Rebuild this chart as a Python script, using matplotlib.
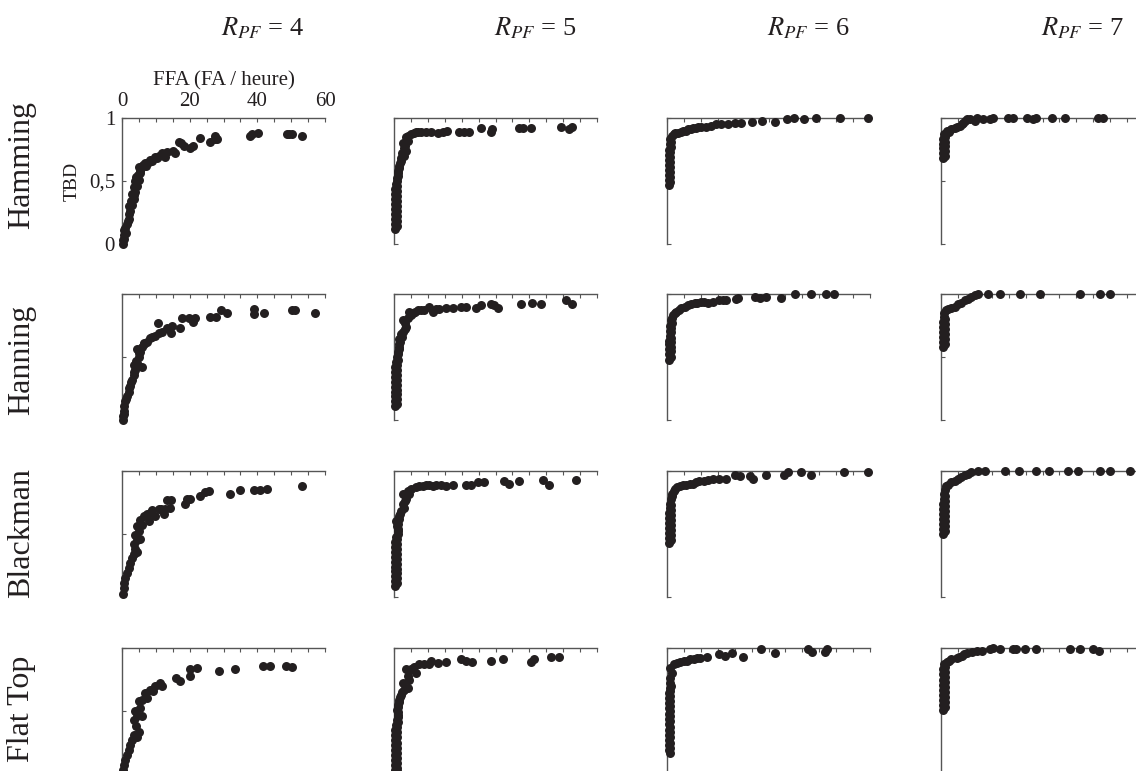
"""
Scatter grid: TBD vs FFA for four windows and four R_PF values.
Output: out.png
"""

import matplotlib.pyplot as plt
from matplotlib.ticker import MultipleLocator

plt.rcParams['font.family'] = 'Liberation Serif'
plt.rcParams['mathtext.fontset'] = 'stix'

# ============================================================================
# DATA ((FFA, TBD) pairs)
# ============================================================================

WINDOWS = ['Hamming', 'Hanning', 'Blackman', 'Flat Top']
RPF_VALUES = [4, 5, 6, 7]
X_TICKS = [0, 20, 40, 60]
Y_TICKS = [0, 0.5, 1]
Y_TICK_LABELS = ['0', '0,5', '1']
X_LABEL = 'FFA (FA / heure)'
Y_LABEL = 'TBD'

HAM_R4 = [(0.2, 0.00), (0.3, 0.03), (0.5, 0.04), (0.5, 0.07), (0.7, 0.11), (1.0, 0.13),
          (1.2, 0.09), (1.5, 0.16), (1.8, 0.18), (2.0, 0.20), (2.2, 0.24), (2.5, 0.26),
          (2.0, 0.30), (3.0, 0.31), (2.8, 0.34), (3.4, 0.36), (3.6, 0.39), (3.9, 0.41),
          (3.0, 0.40), (3.5, 0.45), (4.4, 0.46), (3.9, 0.50), (4.9, 0.51), (4.6, 0.55),
          (4.2, 0.53), (5.4, 0.58), (5.2, 0.56), (4.9, 0.61), (5.9, 0.61), (6.2, 0.63),
          (6.9, 0.64), (7.2, 0.62), (7.9, 0.65), (8.4, 0.67), (8.9, 0.66), (9.8, 0.69),
          (10.3, 0.68), (10.8, 0.70), (11.8, 0.72), (12.8, 0.69), (13.3, 0.73), (15.2, 0.74),
          (15.7, 0.72), (16.7, 0.81), (17.4, 0.80), (18.2, 0.78), (20.2, 0.76), (21.1, 0.78),
          (23.1, 0.84), (26.1, 0.81), (27.5, 0.86), (27.5, 0.83), (28.0, 0.83), (37.9, 0.86),
          (38.5, 0.87), (40.3, 0.88), (48.7, 0.87), (49.5, 0.87), (50.2, 0.87), (53.1, 0.86)]
HAM_R5 = [(0.4, 0.12), (0.9, 0.14), (0.4, 0.16), (0.9, 0.18), (0.4, 0.20), (0.9, 0.22),
          (0.4, 0.24), (0.9, 0.26), (0.4, 0.28), (0.9, 0.30), (0.4, 0.32), (0.9, 0.34),
          (0.4, 0.36), (0.9, 0.38), (0.4, 0.40), (0.9, 0.42), (0.4, 0.44), (0.9, 0.46),
          (0.6, 0.48), (1.0, 0.50), (0.8, 0.52), (1.2, 0.54), (1.1, 0.56), (1.2, 0.58),
          (1.4, 0.60), (1.5, 0.62), (1.8, 0.64), (2.0, 0.66), (2.1, 0.68), (3.0, 0.70),
          (2.5, 0.72), (3.5, 0.74), (3.0, 0.76), (3.3, 0.78), (2.8, 0.80), (4.0, 0.82),
          (3.5, 0.85), (4.2, 0.86), (5.0, 0.87), (5.8, 0.88), (6.5, 0.89), (7.2, 0.89),
          (8.0, 0.89), (9.4, 0.89), (10.9, 0.89), (12.9, 0.88), (14.4, 0.89), (15.8, 0.90),
          (19.3, 0.89), (20.8, 0.89), (22.2, 0.89), (25.7, 0.92), (28.6, 0.89), (29.1, 0.91),
          (37.0, 0.92), (38.0, 0.92), (40.4, 0.92), (49.3, 0.93), (51.8, 0.91), (52.5, 0.93)]
HAM_R6 = [(0.5, 0.47), (1.0, 0.49), (0.5, 0.51), (1.0, 0.53), (0.5, 0.55), (1.0, 0.57),
          (0.5, 0.59), (1.0, 0.61), (0.5, 0.63), (1.0, 0.65), (0.5, 0.67), (1.0, 0.69),
          (0.5, 0.71), (1.0, 0.73), (0.6, 0.75), (1.1, 0.77), (0.8, 0.79), (1.2, 0.81),
          (1.0, 0.83), (1.5, 0.86), (2.0, 0.87), (2.5, 0.88), (3.2, 0.88), (4.0, 0.89),
          (4.8, 0.90), (5.5, 0.90), (6.2, 0.91), (7.0, 0.91), (7.8, 0.92), (8.5, 0.92),
          (9.2, 0.93), (10.0, 0.93), (11.5, 0.93), (13.0, 0.94), (14.5, 0.95), (16.0, 0.95),
          (18.0, 0.95), (20.0, 0.96), (22.0, 0.96), (25.0, 0.97), (28.0, 0.98), (32.0, 0.97),
          (35.5, 0.99), (37.5, 1.00), (40.5, 0.99), (44.0, 1.00), (51.0, 1.00), (59.5, 1.00)]
HAM_R7 = [(0.7, 0.68), (1.2, 0.70), (0.7, 0.72), (1.2, 0.74), (0.7, 0.76), (1.2, 0.78),
          (0.7, 0.79), (1.2, 0.81), (0.7, 0.83), (1.2, 0.85), (0.9, 0.87), (1.7, 0.90),
          (2.4, 0.89), (3.1, 0.91), (4.0, 0.92), (4.6, 0.93), (5.6, 0.94), (6.1, 0.95),
          (6.6, 0.96), (7.1, 0.98), (7.6, 0.99), (8.6, 0.99), (10.0, 0.98), (10.5, 1.00),
          (12.5, 0.99), (14.5, 0.99), (15.4, 1.00), (19.9, 1.00), (21.4, 1.00), (25.3, 1.00),
          (27.3, 0.99), (28.2, 1.00), (32.7, 1.00), (36.6, 1.00), (46.4, 1.00), (47.9, 1.00)]

HAN_R4 = [(0.2, 0.00), (0.3, 0.03), (0.6, 0.05), (0.5, 0.07), (0.7, 0.11), (1.0, 0.15),
          (1.2, 0.17), (1.5, 0.19), (2.0, 0.22), (2.2, 0.25), (2.5, 0.27), (2.8, 0.30),
          (3.0, 0.32), (3.4, 0.36), (3.6, 0.38), (3.9, 0.40), (3.4, 0.44), (4.4, 0.45),
          (5.9, 0.42), (4.0, 0.47), (4.9, 0.50), (5.0, 0.53), (5.4, 0.54), (4.4, 0.56),
          (5.9, 0.58), (6.6, 0.60), (6.4, 0.61), (7.4, 0.62), (8.4, 0.65), (9.0, 0.66),
          (9.8, 0.67), (10.8, 0.69), (11.8, 0.70), (10.5, 0.77), (13.3, 0.73), (14.8, 0.75),
          (14.5, 0.69), (17.7, 0.81), (17.2, 0.73), (19.7, 0.81), (21.6, 0.81), (21.1, 0.78),
          (26.1, 0.82), (27.8, 0.82), (29.2, 0.87), (31.0, 0.85), (38.9, 0.88), (38.9, 0.84),
          (42.0, 0.85), (50.2, 0.87), (51.1, 0.87), (56.9, 0.85)]
HAN_R5 = [(0.3, 0.11), (0.8, 0.13), (0.3, 0.15), (0.8, 0.17), (0.3, 0.19), (0.8, 0.21),
          (0.3, 0.22), (0.8, 0.24), (0.3, 0.26), (0.8, 0.28), (0.3, 0.30), (0.8, 0.32),
          (0.3, 0.34), (0.8, 0.36), (0.3, 0.38), (0.8, 0.40), (0.3, 0.42), (0.8, 0.44),
          (0.6, 0.46), (1.2, 0.48), (0.8, 0.50), (1.2, 0.52), (1.1, 0.54), (1.4, 0.56),
          (1.4, 0.58), (1.6, 0.60), (1.8, 0.62), (1.4, 0.64), (2.4, 0.66), (2.0, 0.68),
          (2.8, 0.70), (3.2, 0.72), (3.5, 0.74), (3.2, 0.77), (2.6, 0.79), (4.0, 0.81),
          (5.0, 0.83), (4.5, 0.86), (5.5, 0.85), (6.2, 0.86), (7.0, 0.87), (8.0, 0.87),
          (9.0, 0.87), (10.4, 0.90), (11.4, 0.86), (12.4, 0.88), (13.4, 0.88), (15.4, 0.89),
          (17.3, 0.89), (19.8, 0.90), (21.3, 0.90), (24.2, 0.89), (25.7, 0.91), (28.6, 0.92),
          (29.6, 0.91), (30.6, 0.89), (37.5, 0.92), (40.9, 0.93), (43.4, 0.92), (50.8, 0.95),
          (52.5, 0.92)]
HAN_R6 = [(0.6, 0.48), (1.1, 0.50), (0.6, 0.52), (1.2, 0.55), (0.6, 0.56), (1.1, 0.58),
          (0.6, 0.60), (1.1, 0.62), (0.6, 0.63), (1.1, 0.65), (0.8, 0.67), (1.2, 0.70),
          (0.8, 0.71), (1.2, 0.73), (1.0, 0.75), (1.4, 0.77), (1.3, 0.79), (1.6, 0.81),
          (1.8, 0.83), (2.3, 0.85), (2.8, 0.86), (3.5, 0.87), (4.2, 0.89), (5.2, 0.90),
          (6.2, 0.91), (7.2, 0.92), (8.2, 0.93), (9.0, 0.93), (10.1, 0.94), (11.0, 0.94),
          (12.1, 0.93), (13.6, 0.94), (15.5, 0.95), (16.5, 0.95), (17.5, 0.95), (20.5, 0.96),
          (21.0, 0.97), (25.9, 0.98), (27.4, 0.97), (29.3, 0.98), (33.8, 0.97), (37.7, 1.00),
          (42.6, 1.00), (47.0, 1.00), (49.5, 1.00)]
HAN_R7 = [(0.5, 0.58), (1.2, 0.60), (0.5, 0.62), (1.2, 0.64), (0.5, 0.66), (1.2, 0.68),
          (0.5, 0.70), (1.2, 0.72), (0.5, 0.74), (1.2, 0.76), (0.7, 0.78), (1.2, 0.80),
          (0.9, 0.82), (1.0, 0.85), (1.5, 0.87), (2.2, 0.88), (3.0, 0.89), (4.0, 0.90),
          (5.0, 0.92), (6.0, 0.93), (7.0, 0.95), (8.0, 0.96), (9.0, 0.98), (10.0, 0.99),
          (11.0, 1.00), (14.0, 1.00), (17.4, 1.00), (23.3, 1.00), (29.3, 1.00), (41.1, 1.00),
          (47.0, 1.00), (50.0, 1.00)]

BLA_R4 = [(0.3, 0.02), (0.5, 0.07), (0.7, 0.11), (1.0, 0.15), (1.5, 0.19), (2.0, 0.23),
          (2.3, 0.27), (3.0, 0.31), (3.4, 0.34), (3.9, 0.38), (4.4, 0.36), (3.4, 0.42),
          (4.4, 0.45), (5.4, 0.46), (3.9, 0.49), (4.9, 0.52), (4.4, 0.56), (5.9, 0.57),
          (5.4, 0.61), (6.4, 0.64), (7.9, 0.60), (7.4, 0.66), (8.2, 0.67), (8.9, 0.69),
          (9.8, 0.64), (10.8, 0.70), (11.5, 0.70), (12.3, 0.66), (12.8, 0.70), (14.3, 0.71),
          (13.3, 0.77), (14.5, 0.77), (18.7, 0.74), (19.2, 0.78), (20.2, 0.78), (23.1, 0.80),
          (24.6, 0.83), (25.6, 0.84), (32.0, 0.82), (34.9, 0.85), (38.9, 0.85), (40.8, 0.85),
          (42.8, 0.86), (53.1, 0.88)]
BLA_R5 = [(0.3, 0.09), (0.8, 0.11), (0.3, 0.13), (0.8, 0.15), (0.3, 0.17), (0.8, 0.19),
          (0.3, 0.21), (0.8, 0.22), (0.3, 0.24), (0.8, 0.26), (0.3, 0.28), (0.8, 0.30),
          (0.3, 0.32), (0.8, 0.34), (0.3, 0.36), (0.8, 0.38), (0.3, 0.40), (0.8, 0.42),
          (0.4, 0.44), (0.9, 0.46), (0.6, 0.48), (1.1, 0.50), (1.1, 0.52), (1.2, 0.54),
          (0.8, 0.56), (1.2, 0.58), (0.6, 0.60), (1.4, 0.62), (1.4, 0.64), (1.8, 0.66),
          (2.1, 0.68), (3.0, 0.71), (2.8, 0.74), (3.2, 0.76), (3.5, 0.78), (2.6, 0.82),
          (4.5, 0.82), (4.0, 0.84), (5.0, 0.86), (6.5, 0.87), (7.5, 0.88), (8.5, 0.88),
          (9.5, 0.89), (10.4, 0.89), (11.4, 0.88), (12.5, 0.89), (13.9, 0.89), (15.4, 0.88),
          (17.3, 0.89), (21.3, 0.89), (22.7, 0.89), (24.7, 0.91), (26.7, 0.91), (32.6, 0.92),
          (34.0, 0.90), (37.0, 0.92), (43.9, 0.93), (45.9, 0.89), (53.7, 0.93)]
BLA_R6 = [(0.6, 0.43), (1.1, 0.45), (0.6, 0.47), (1.1, 0.49), (0.6, 0.51), (1.1, 0.53),
          (0.6, 0.55), (1.1, 0.57), (0.6, 0.59), (1.1, 0.61), (0.6, 0.63), (1.1, 0.65),
          (0.6, 0.67), (1.1, 0.69), (0.8, 0.71), (1.2, 0.73), (1.0, 0.74), (1.3, 0.78),
          (1.5, 0.80), (1.6, 0.82), (2.0, 0.84), (2.3, 0.86), (3.0, 0.87), (3.7, 0.88),
          (4.7, 0.89), (5.7, 0.89), (6.7, 0.90), (7.7, 0.90), (8.6, 0.91), (9.6, 0.92),
          (10.9, 0.92), (12.1, 0.93), (13.6, 0.94), (15.5, 0.94), (17.5, 0.94), (20.0, 0.97),
          (21.5, 0.96), (24.4, 0.96), (25.4, 0.94), (29.3, 0.97), (34.7, 0.97), (35.7, 0.99),
          (39.7, 0.99), (42.6, 0.97), (52.4, 0.99), (59.3, 0.99)]
BLA_R7 = [(0.5, 0.50), (1.1, 0.52), (0.5, 0.54), (1.1, 0.56), (0.5, 0.58), (1.1, 0.60),
          (0.5, 0.62), (1.1, 0.64), (0.5, 0.66), (1.1, 0.68), (0.5, 0.70), (1.1, 0.72),
          (0.6, 0.74), (1.1, 0.76), (0.8, 0.78), (1.2, 0.80), (1.0, 0.82), (1.2, 0.85),
          (1.5, 0.88), (2.2, 0.89), (3.0, 0.91), (4.0, 0.92), (5.0, 0.94), (6.0, 0.95),
          (7.0, 0.97), (8.0, 0.98), (9.0, 0.99), (11.0, 1.00), (13.0, 1.00), (19.0, 1.00),
          (23.0, 1.00), (28.0, 1.00), (32.0, 1.00), (37.5, 1.00), (40.5, 1.00), (47.0, 1.00),
          (50.0, 1.00), (56.0, 1.00)]

FLA_R4 = [(0.3, 0.03), (0.7, 0.07), (1.0, 0.11), (1.5, 0.15), (2.0, 0.19), (2.5, 0.23),
          (3.0, 0.27), (3.4, 0.31), (4.4, 0.29), (4.9, 0.33), (4.2, 0.38), (3.4, 0.43),
          (4.4, 0.46), (5.9, 0.46), (3.9, 0.50), (5.4, 0.52), (4.9, 0.58), (5.9, 0.59),
          (7.4, 0.60), (6.9, 0.64), (8.4, 0.67), (9.3, 0.66), (9.8, 0.70), (11.3, 0.72),
          (11.8, 0.70), (16.0, 0.76), (17.2, 0.74), (20.2, 0.78), (20.2, 0.83), (22.1, 0.84),
          (28.8, 0.82), (33.5, 0.83), (41.6, 0.86), (43.6, 0.86), (48.5, 0.86), (50.2, 0.85)]
FLA_R5 = [(0.4, 0.00), (0.9, 0.02), (0.4, 0.03), (0.9, 0.05), (0.4, 0.07), (0.9, 0.09),
          (0.4, 0.11), (0.9, 0.13), (0.4, 0.15), (0.9, 0.17), (0.4, 0.19), (0.9, 0.21),
          (0.4, 0.23), (0.9, 0.25), (0.4, 0.27), (0.9, 0.29), (0.4, 0.31), (0.9, 0.33),
          (0.4, 0.35), (0.9, 0.37), (0.6, 0.39), (1.1, 0.41), (0.8, 0.43), (1.1, 0.45),
          (1.1, 0.47), (1.2, 0.49), (0.8, 0.51), (1.3, 0.53), (1.1, 0.55), (1.4, 0.57),
          (1.6, 0.59), (1.8, 0.61), (2.1, 0.63), (2.5, 0.65), (3.0, 0.67), (4.0, 0.68),
          (2.6, 0.72), (4.5, 0.75), (4.0, 0.78), (3.5, 0.83), (5.0, 0.83), (6.5, 0.80),
          (6.0, 0.85), (7.5, 0.87), (9.0, 0.87), (10.4, 0.87), (10.9, 0.90), (12.9, 0.88),
          (15.4, 0.89), (19.8, 0.91), (21.3, 0.90), (23.2, 0.89), (28.6, 0.90), (32.3, 0.91),
          (40.4, 0.89), (41.4, 0.91), (46.3, 0.93), (48.8, 0.93)]
FLA_R6 = [(0.8, 0.17), (0.5, 0.19), (0.8, 0.21), (0.5, 0.23), (0.8, 0.25), (0.5, 0.27),
          (0.8, 0.29), (0.5, 0.31), (0.8, 0.33), (0.5, 0.35), (0.8, 0.37), (0.5, 0.40),
          (0.8, 0.42), (0.5, 0.44), (0.8, 0.46), (0.5, 0.48), (0.8, 0.50), (0.5, 0.52),
          (0.8, 0.54), (0.5, 0.56), (0.8, 0.58), (0.5, 0.60), (0.8, 0.62), (0.5, 0.64),
          (0.8, 0.66), (0.8, 0.68), (1.1, 0.70), (0.8, 0.72), (1.0, 0.76), (1.5, 0.80),
          (1.0, 0.84), (2.0, 0.87), (2.9, 0.88), (3.9, 0.89), (4.9, 0.90), (5.9, 0.90),
          (6.9, 0.91), (7.9, 0.91), (8.8, 0.92), (9.8, 0.92), (11.8, 0.93), (15.3, 0.95),
          (17.2, 0.94), (19.2, 0.96), (22.4, 0.93), (27.8, 0.99), (32.0, 0.96), (41.8, 0.99),
          (42.8, 0.97), (46.7, 0.97), (47.2, 0.99)]
FLA_R7 = [(0.7, 0.51), (1.2, 0.53), (0.7, 0.55), (1.2, 0.57), (0.7, 0.59), (1.2, 0.61),
          (0.7, 0.63), (1.2, 0.65), (0.7, 0.67), (1.2, 0.69), (0.7, 0.71), (1.2, 0.73),
          (0.7, 0.75), (1.2, 0.77), (0.7, 0.79), (1.2, 0.81), (0.7, 0.83), (1.2, 0.85),
          (0.9, 0.87), (1.7, 0.89), (2.4, 0.90), (3.1, 0.91), (4.6, 0.92), (5.4, 0.93),
          (6.1, 0.94), (6.9, 0.95), (7.6, 0.96), (9.1, 0.97), (10.5, 0.98), (12.0, 0.98),
          (14.5, 0.99), (15.4, 1.00), (17.4, 0.99), (21.4, 0.99), (22.3, 0.99), (24.8, 0.99),
          (28.2, 0.99), (38.1, 0.99), (41.0, 0.99), (45.0, 0.99), (46.7, 0.98)]

PANELS = [
    [HAM_R4, HAM_R5, HAM_R6, HAM_R7],
    [HAN_R4, HAN_R5, HAN_R6, HAN_R7],
    [BLA_R4, BLA_R5, BLA_R6, BLA_R7],
    [FLA_R4, FLA_R5, FLA_R6, FLA_R7],
]

# ============================================================================
# LAYOUT (pixels)
# ============================================================================

FIG_W, FIG_H = 1136, 771
COL_LEFT = [122, 394, 667, 941]
ROW_TOP = [118, 294, 471, 648]
AX_W, AX_H = 203, 126
ROW_LABEL_Y = [165, 360, 533, 709]

MARKER_COLOR = '#231f20'
SPINE_COLOR = '#555555'


def style_axis(ax, first):
    ax.set_xlim(0, 60)
    ax.set_ylim(0, 1)
    ax.spines['right'].set_visible(False)
    ax.spines['bottom'].set_visible(False)
    for side in ('top', 'left'):
        ax.spines[side].set_color(SPINE_COLOR)
        ax.spines[side].set_linewidth(1.0)
    ax.xaxis.set_ticks_position('top')
    ax.set_xticks(X_TICKS)
    ax.xaxis.set_minor_locator(MultipleLocator(5))
    ax.set_yticks(Y_TICKS)
    ax.tick_params(which='both', direction='in', length=3, width=0.8,
                   colors=SPINE_COLOR, labelcolor=MARKER_COLOR, labelsize=15)
    ax.tick_params(axis='x', pad=5)
    ax.tick_params(axis='y', pad=5)
    if first:
        ax.set_yticklabels(Y_TICK_LABELS)
        ax.xaxis.set_label_position('top')
        ax.set_xlabel(X_LABEL, fontsize=15, labelpad=5, color=MARKER_COLOR)
        ax.set_ylabel(Y_LABEL, fontsize=14, labelpad=6, color=MARKER_COLOR)
    else:
        ax.tick_params(labeltop=False, labelleft=False)


def main():
    fig = plt.figure(figsize=(FIG_W / 100, FIG_H / 100), dpi=100)

    for r, row in enumerate(PANELS):
        for c, pts in enumerate(row):
            left = COL_LEFT[c] / FIG_W
            bottom = 1 - (ROW_TOP[r] + AX_H) / FIG_H
            ax = fig.add_axes([left, bottom, AX_W / FIG_W, AX_H / FIG_H])
            xs = [p[0] for p in pts]
            ys = [p[1] for p in pts]
            ax.scatter(xs, ys, s=42, color=MARKER_COLOR, linewidths=0,
                       clip_on=False, zorder=3)
            style_axis(ax, r == 0 and c == 0)

    # column titles
    for c, rpf in enumerate(RPF_VALUES):
        fig.text((COL_LEFT[c] + 141) / FIG_W, 1 - 28 / FIG_H,
                 rf'$R_{{PF}}$ = {rpf}', ha='center', va='center',
                 fontsize=19, color=MARKER_COLOR)

    # row labels
    for r, name in enumerate(WINDOWS):
        fig.text(22 / FIG_W, 1 - ROW_LABEL_Y[r] / FIG_H, name, rotation=90,
                 ha='center', va='center', fontsize=23, color=MARKER_COLOR)

    fig.savefig('out.png', dpi=100)
    plt.close(fig)


if __name__ == '__main__':
    main()
